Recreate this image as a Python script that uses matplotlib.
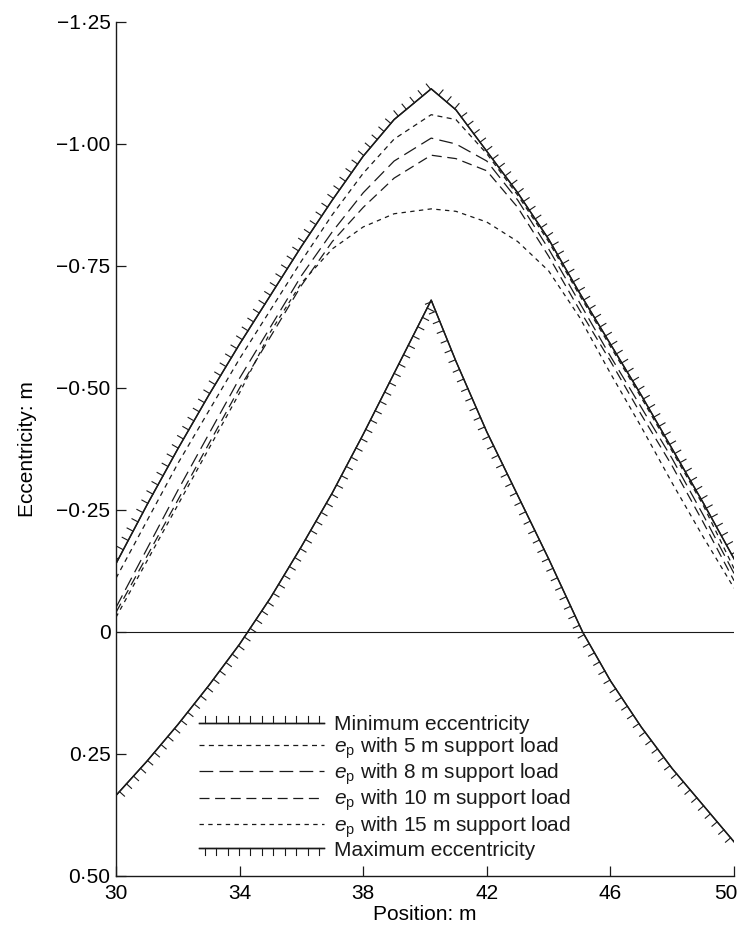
import matplotlib
matplotlib.use("Agg")
import matplotlib.pyplot as plt
from matplotlib import patheffects
from matplotlib.transforms import ScaledTranslation

plt.rcParams["font.family"] = ["Liberation Sans", "DejaVu Sans"]
plt.rcParams["mathtext.fontset"] = "custom"
plt.rcParams["mathtext.it"] = "Liberation Sans:italic"
plt.rcParams["mathtext.rm"] = "Liberation Sans"

# minimum eccentricity (upper limit line, negative = above centroid)
pos_min = [30, 31, 32, 33, 34, 35, 36, 37, 38, 39, 40.2,
           41, 42, 43, 44, 45, 46, 47, 48, 49, 50]
ecc_min = [-0.14, -0.26, -0.375, -0.485, -0.59, -0.69, -0.79, -0.885, -0.975, -1.05, -1.113,
           -1.07, -0.985, -0.90, -0.805, -0.695, -0.59, -0.485, -0.375, -0.265, -0.15]

# maximum eccentricity
pos_max = [30, 31, 32, 33, 34, 35, 36, 37, 38, 39, 40.2,
           41, 42, 43, 44, 45.1, 46, 47, 48, 49, 50]
ecc_max = [0.335, 0.265, 0.19, 0.11, 0.025, -0.07, -0.175, -0.285, -0.405, -0.53, -0.68,
           -0.555, -0.41, -0.28, -0.15, 0.0, 0.10, 0.195, 0.28, 0.355, 0.43]

# prestress eccentricity e_p for each support load length
pos_ep = [30, 32, 34, 35, 36, 37, 38, 39, 40.2, 41, 42, 43, 44, 45, 46, 47, 48, 49, 50]
ep_5m = [-0.11, -0.345, -0.56, -0.66, -0.76, -0.855, -0.94, -1.01, -1.06,
         -1.05, -0.98, -0.895, -0.80, -0.69, -0.585, -0.48, -0.37, -0.26, -0.13]
ep_8m = [-0.05, -0.29, -0.52, -0.625, -0.73, -0.82, -0.90, -0.965, -1.012,
         -1.0, -0.965, -0.885, -0.785, -0.675, -0.565, -0.46, -0.355, -0.24, -0.12]
ep_10m = [-0.04, -0.27, -0.50, -0.605, -0.71, -0.80, -0.87, -0.93, -0.977,
          -0.97, -0.945, -0.87, -0.77, -0.66, -0.555, -0.445, -0.34, -0.225, -0.105]
ep_15m = [-0.03, -0.26, -0.49, -0.615, -0.715, -0.785, -0.83, -0.857, -0.867,
          -0.862, -0.84, -0.80, -0.74, -0.645, -0.53, -0.42, -0.305, -0.195, -0.09]

X_TICKS = [30, 34, 38, 42, 46, 50]
Y_TICKS = [-1.25, -1.00, -0.75, -0.50, -0.25, 0, 0.25, 0.50]
Y_LABELS = ["\u22121\u00b725", "\u22121\u00b700", "\u22120\u00b775", "\u22120\u00b750",
            "\u22120\u00b725", "0", "0\u00b725", "0\u00b750"]

INK = "#1a1a1a"
FS = 15

fig = plt.figure(figsize=(7.41, 9.31), dpi=100)
ax = fig.add_axes([0.1565, 0.0591, 0.8341, 0.9173])

ticks_up = [patheffects.withTickedStroke(angle=90, spacing=7.5, length=0.65, linewidth=0.8),
            patheffects.Normal()]
ticks_down = [patheffects.withTickedStroke(angle=-90, spacing=7.5, length=0.65, linewidth=0.8),
              patheffects.Normal()]

ax.axhline(0, color=INK, lw=0.8)

ax.plot(pos_min, ecc_min, color=INK, lw=1.0, path_effects=ticks_up,
        label="Minimum eccentricity")
ax.plot(pos_ep, ep_5m, color=INK, lw=0.9, dashes=(4, 3.5),
        label="$e_\\mathrm{p}$ with 5 m support load")
ax.plot(pos_ep, ep_8m, color=INK, lw=0.9, dashes=(11, 5),
        label="$e_\\mathrm{p}$ with 8 m support load")
ax.plot(pos_ep, ep_10m, color=INK, lw=0.9, dashes=(8, 4.5),
        label="$e_\\mathrm{p}$ with 10 m support load")
ax.plot(pos_ep, ep_15m, color=INK, lw=0.9, dashes=(3.5, 3.5),
        label="$e_\\mathrm{p}$ with 15 m support load")
ax.plot(pos_max, ecc_max, color=INK, lw=1.0, path_effects=ticks_down,
        label="Maximum eccentricity")

ax.set_xlim(30, 50)
ax.set_ylim(0.5, -1.25)
ax.set_xticks(X_TICKS)
ax.set_xticklabels([str(x) for x in X_TICKS], fontsize=FS)
ax.set_yticks(Y_TICKS)
ax.set_yticklabels(Y_LABELS, fontsize=FS)
ax.tick_params(direction="in", length=7, width=0.9, color=INK, pad=4)
ax.tick_params(axis="x", pad=6)

# keep the last x label inside the figure edge
last = ax.get_xticklabels()[-1]
last.set_transform(last.get_transform() + ScaledTranslation(-6 / 72, 0, fig.dpi_scale_trans))

for side in ("top", "right"):
    ax.spines[side].set_visible(False)
for side in ("left", "bottom"):
    ax.spines[side].set_linewidth(1.0)
    ax.spines[side].set_color(INK)

ax.set_xlabel("Position: m", fontsize=FS, labelpad=1)
ax.set_ylabel("Eccentricity: m", fontsize=FS, labelpad=14)

leg = ax.legend(loc="upper left", bbox_to_anchor=(0.135, 0.188), frameon=False,
                fontsize=FS, handlelength=6.0, handletextpad=0.45,
                labelspacing=0.04, borderpad=0, borderaxespad=0)
for t in leg.get_texts():
    t.set_color(INK)

fig.savefig("out.png", dpi=100)
